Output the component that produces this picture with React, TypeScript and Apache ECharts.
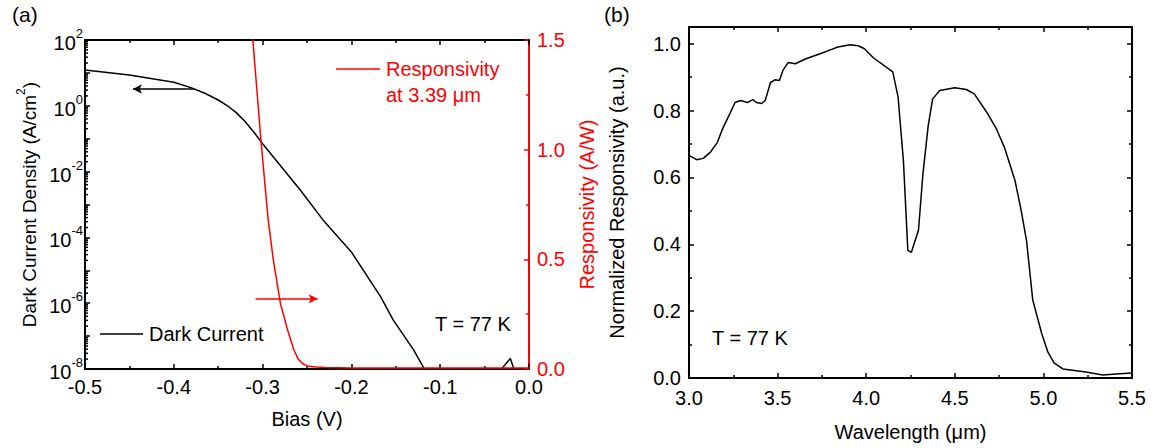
import React, { useEffect, useRef } from 'react';
import * as echarts from 'echarts';

// Panel (a): dark current density (A/cm^2) vs bias (V)
const biasDark = [-0.5, -0.45, -0.4, -0.38, -0.365, -0.35, -0.34, -0.33, -0.32, -0.31, -0.3, -0.2576, -0.232, -0.2, -0.167, -0.153, -0.13, -0.119, -0.116, -0.034, -0.031, -0.021, -0.017, -0.016];
const darkCurrent = [12.3, 8.7, 5.2, 3.5, 2.4, 1.5, 1.02, 0.63, 0.34, 0.16, 0.07, 2.75e-3, 3.4e-4, 3.6e-5, 1.55e-6, 3.1e-7, 3.8e-8, 1.15e-8, 1e-9, 1e-9, 1e-8, 2.1e-8, 1e-8, 1e-9];

// Panel (a): responsivity at 3.39 um (A/W) vs bias (right axis)
const biasResp = [-0.316, -0.3016, -0.2937, -0.288, -0.28, -0.272, -0.265, -0.26, -0.255, -0.25, -0.24, -0.229, -0.2, -0.1, 0];
const responsivity = [1.75, 1.03, 0.68, 0.5, 0.3, 0.18, 0.09, 0.045, 0.025, 0.014, 0.009, 0.007, 0.005, 0.004, 0.004];

// Panel (b): normalized spectral responsivity vs wavelength (um)
const wavelength = [3.0, 3.043, 3.08, 3.12, 3.16, 3.19, 3.23, 3.26, 3.29, 3.33, 3.36, 3.38, 3.41, 3.43, 3.46, 3.485, 3.51, 3.53, 3.56, 3.6, 3.66, 3.74, 3.79, 3.84, 3.91, 3.955, 3.99, 4.04, 4.15, 4.18, 4.21, 4.235, 4.255, 4.295, 4.32, 4.35, 4.375, 4.415, 4.5, 4.565, 4.61, 4.68, 4.735, 4.78, 4.84, 4.875, 4.905, 4.94, 4.99, 5.025, 5.06, 5.11, 5.24, 5.335, 5.41, 5.5];
const normResp = [0.666, 0.653, 0.657, 0.675, 0.705, 0.746, 0.79, 0.824, 0.83, 0.824, 0.833, 0.824, 0.821, 0.83, 0.884, 0.892, 0.89, 0.92, 0.944, 0.94, 0.955, 0.97, 0.98, 0.99, 0.997, 0.994, 0.985, 0.958, 0.916, 0.84, 0.65, 0.382, 0.376, 0.442, 0.61, 0.755, 0.835, 0.86, 0.868, 0.863, 0.85, 0.795, 0.745, 0.69, 0.59, 0.5, 0.41, 0.233, 0.134, 0.078, 0.045, 0.027, 0.018, 0.009, 0.012, 0.015];

// Arrow annotations ([bias, value])
const darkArrow = { from: [-0.377, 3.24], to: [-0.446, 3.24] };
const respArrow = { from: [-0.308, 0.32], to: [-0.238, 0.32] };

// Log axis: decades shown (exponents) and minor multipliers
const decades = [-8, -7, -6, -5, -4, -3, -2, -1, 0, 1];
const minorMultipliers = [2, 3, 4, 5, 6, 7, 8, 9];

const FONT = 'Liberation Sans, Arial, sans-serif';
const RED = '#ff0000';

export default function App() {
  const ref = useRef<HTMLDivElement>(null);
  useEffect(() => {
    document.body.style.margin = '0';
    const chart = echarts.init(ref.current!, null, { renderer: 'svg' });
    const zip = (a: number[], b: number[]) => a.map((v, i) => [v, b[i]]);
    const lg = (v: number) => Math.log10(v);
    const minorLog: number[][] = [];
    decades.forEach((e) => minorMultipliers.forEach((k) => minorLog.push([-0.5, lg(k * Math.pow(10, e))])));

    const axisLine = (c: string) => ({ show: true, onZero: false, lineStyle: { color: c, width: 2 } });
    const tick = (c: string) => ({ show: true, inside: true, length: 5, lineStyle: { color: c, width: 1.5 } });
    const minor = (c: string) => ({ show: true, splitNumber: 2, length: 3, lineStyle: { color: c, width: 1.5 } });
    const lbl = (c: string, margin: number, fmt?: any) => ({ show: true, color: c, fontSize: 20, fontFamily: FONT, margin, formatter: fmt });
    const nameStyle = (c: string) => ({ fontSize: 20, color: c, fontFamily: FONT });

    const option: any = {
      animation: false,
      backgroundColor: '#ffffff',
      textStyle: { fontFamily: FONT },
      grid: [
        { left: 85, right: 623, top: 40, bottom: 79, containLabel: false },
        { left: 689, right: 20, top: 27, bottom: 70, containLabel: false },
      ],
      xAxis: [
        {
          gridIndex: 0, type: 'value', position: 'bottom', min: -0.5, max: 0, interval: 0.1,
          axisLine: axisLine('#000'), axisTick: tick('#000'), minorTick: minor('#000'), splitLine: { show: false },
          axisLabel: lbl('#000', 8, (v: number) => v.toFixed(1)),
          name: 'Bias (V)', nameLocation: 'middle', nameGap: 40, nameTextStyle: nameStyle('#000'),
        },
        {
          gridIndex: 0, type: 'value', position: 'top', min: -0.5, max: 0, interval: 0.1,
          axisLine: axisLine('#000'), axisTick: tick('#000'), minorTick: minor('#000'), splitLine: { show: false },
          axisLabel: { show: false },
        },
        {
          gridIndex: 1, type: 'value', position: 'bottom', min: 3, max: 5.5, interval: 0.5,
          axisLine: axisLine('#000'), axisTick: tick('#000'), minorTick: minor('#000'), splitLine: { show: false },
          axisLabel: lbl('#000', 10, (v: number) => v.toFixed(1)),
          name: 'Wavelength (μm)', nameLocation: 'middle', nameGap: 44, nameTextStyle: nameStyle('#000'),
        },
        {
          gridIndex: 1, type: 'value', position: 'top', min: 3, max: 5.5, interval: 0.5,
          axisLine: axisLine('#000'), axisTick: tick('#000'), minorTick: minor('#000'), splitLine: { show: false },
          axisLabel: { show: false },
        },
      ],
      yAxis: [
        {
          // log10 of current density
          gridIndex: 0, type: 'value', min: -8, max: 2, interval: 1, position: 'left',
          axisLine: axisLine('#000'), axisTick: tick('#000'), splitLine: { show: false },
          axisLabel: {
            show: true, margin: 2, fontFamily: FONT, color: '#000',
            formatter: (v: number) => {
              const e = Math.round(v);
              if (e % 2 !== 0) return '';
              return `{b|10}{s|${e}}`;
            },
            rich: {
              b: { fontSize: 20, fontFamily: FONT, color: '#000', lineHeight: 26, verticalAlign: 'bottom' },
              s: { fontSize: 13, fontFamily: FONT, color: '#000', lineHeight: 26, verticalAlign: 'top' },
            },
          },
          name: '{a|Dark Current Density (A/cm}{s|2}{a|)}', nameLocation: 'middle', nameGap: 46, nameRotate: 90,
          nameTextStyle: {
            rich: {
              a: { fontSize: 19, fontFamily: FONT, color: '#000', lineHeight: 24, verticalAlign: 'bottom' },
              s: { fontSize: 12, fontFamily: FONT, color: '#000', lineHeight: 24, verticalAlign: 'top' },
            },
          },
        },
        {
          gridIndex: 0, type: 'value', position: 'right', min: 0, max: 1.5, interval: 0.5,
          axisLine: axisLine(RED), axisTick: tick(RED), minorTick: minor(RED), splitLine: { show: false },
          axisLabel: lbl(RED, 8, (v: number) => v.toFixed(1)),
          name: 'Responsivity (A/W)', nameLocation: 'middle', nameGap: 48, nameRotate: 90, nameTextStyle: nameStyle(RED),
        },
        {
          gridIndex: 1, type: 'value', position: 'left', min: 0, max: 1.05, interval: 0.2,
          axisLine: axisLine('#000'), axisTick: tick('#000'), minorTick: minor('#000'), splitLine: { show: false },
          axisLabel: lbl('#000', 8, (v: number) => (Math.abs(v * 5 - Math.round(v * 5)) < 1e-6 ? v.toFixed(1) : '')),
          name: 'Normalized Responsivity (a.u.)', nameLocation: 'middle', nameGap: 62, nameRotate: 90, nameTextStyle: nameStyle('#000'),
        },
        {
          gridIndex: 1, type: 'value', position: 'right', min: 0, max: 1.05, interval: 0.2,
          axisLine: axisLine('#000'), axisTick: tick('#000'), minorTick: minor('#000'), splitLine: { show: false },
          axisLabel: { show: false },
        },
      ],
      series: [
        {
          type: 'custom', xAxisIndex: 0, yAxisIndex: 0, silent: true, data: minorLog,
          renderItem: (params: any, api: any) => {
            const p = api.coord([api.value(0), api.value(1)]);
            return { type: 'line', shape: { x1: p[0], y1: p[1], x2: p[0] + 3, y2: p[1] }, style: { stroke: '#000', lineWidth: 1.5 } };
          },
        },
        {
          name: 'Dark Current', type: 'line', xAxisIndex: 0, yAxisIndex: 0,
          data: biasDark.map((b, i) => [b, lg(darkCurrent[i])]),
          showSymbol: false, symbol: 'none', lineStyle: { color: '#000', width: 1.5 }, clip: true,
          markLine: {
            silent: true, symbol: ['none', 'arrow'], symbolSize: [7, 9], label: { show: false },
            lineStyle: { color: '#000', width: 1.5, type: 'solid' },
            data: [[{ coord: [darkArrow.from[0], lg(darkArrow.from[1])] }, { coord: [darkArrow.to[0], lg(darkArrow.to[1])] }]],
          },
        },
        {
          name: 'Responsivity', type: 'line', xAxisIndex: 0, yAxisIndex: 1, data: zip(biasResp, responsivity),
          showSymbol: false, symbol: 'none', lineStyle: { color: RED, width: 1.5 }, clip: true,
          markLine: {
            silent: true, symbol: ['none', 'arrow'], symbolSize: [7, 9], label: { show: false },
            lineStyle: { color: RED, width: 1.5, type: 'solid' },
            data: [[{ coord: respArrow.from }, { coord: respArrow.to }]],
          },
        },
        {
          name: 'Normalized', type: 'line', xAxisIndex: 2, yAxisIndex: 2, data: zip(wavelength, normResp),
          showSymbol: false, symbol: 'none', lineStyle: { color: '#000', width: 1.5 }, clip: true,
        },
      ],
      graphic: [
        { type: 'text', left: 12, top: 4, style: { text: '(a)', fontSize: 21, fontFamily: FONT, fill: '#000' } },
        { type: 'text', left: 604, top: 4, style: { text: '(b)', fontSize: 21, fontFamily: FONT, fill: '#000' } },
        { type: 'line', shape: { x1: 100, y1: 334, x2: 143, y2: 334 }, style: { stroke: '#000', lineWidth: 1.5 } },
        { type: 'text', x: 149, y: 334, style: { text: 'Dark Current', fontSize: 20, fontFamily: FONT, fill: '#000', verticalAlign: 'middle' } },
        { type: 'line', shape: { x1: 336, y1: 69, x2: 380, y2: 69 }, style: { stroke: RED, lineWidth: 1.5 } },
        { type: 'text', x: 386, y: 69, style: { text: 'Responsivity', fontSize: 20, fontFamily: FONT, fill: RED, verticalAlign: 'middle' } },
        { type: 'text', x: 386, y: 95, style: { text: 'at 3.39 μm', fontSize: 20, fontFamily: FONT, fill: RED, verticalAlign: 'middle' } },
        { type: 'text', x: 435, y: 324, style: { text: 'T = 77 K', fontSize: 20, fontFamily: FONT, fill: '#000', verticalAlign: 'middle' } },
        { type: 'text', x: 712, y: 338, style: { text: 'T = 77 K', fontSize: 20, fontFamily: FONT, fill: '#000', verticalAlign: 'middle' } },
      ],
    };
    chart.setOption(option);
    return () => chart.dispose();
  }, []);
  return <div ref={ref} style={{ width: 1152, height: 448 }} />;
}
